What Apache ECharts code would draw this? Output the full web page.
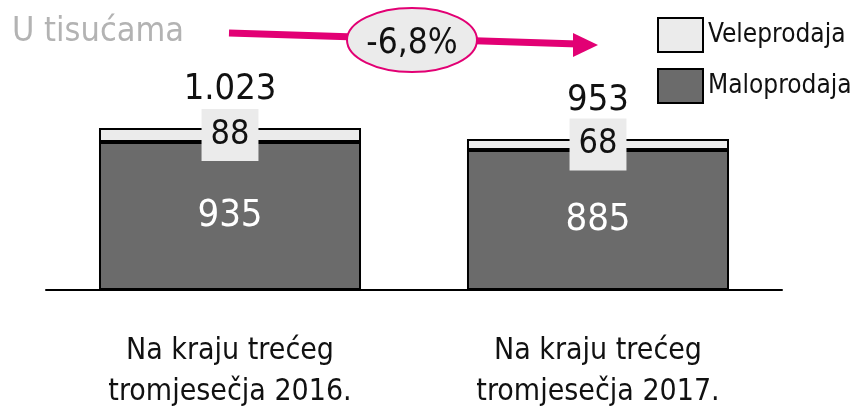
<!DOCTYPE html>
<html>
<head>
    <meta charset="utf-8">
    <title>Veleprodaja i maloprodaja</title>
    <script src="https://cdn.jsdelivr.net/npm/echarts@6/dist/echarts.min.js"></script>
    <style>
        html, body { margin: 0; padding: 0; background: #fff; }
        #chart1 { width: 856px; height: 410px; }
    </style>
</head>
<body>
<div id="chart1"></div>
<script type="text/javascript">
    // podaci (u tisućama)
    var categories = ['Na kraju trećeg\ntromjesečja 2016.', 'Na kraju trećeg\ntromjesečja 2017.'];
    var maloprodaja = [935, 885];
    var veleprodaja = [88, 68];
    var totals = [1023, 953];
    var totalLabels = ['1.023', '953'];
    var changeLabel = '-6,8%';

    var FONT = '"DejaVu Sans Condensed", "DejaVu Sans", sans-serif';
    var MAGENTA = '#e20074';

    var myChart = echarts.init(document.getElementById('chart1'));

    myChart.setOption({
        animation: false,
        textStyle: { fontFamily: FONT },
        title: {
            text: 'U tisućama',
            left: 7,
            top: 10,
            textStyle: { fontFamily: FONT, fontSize: 34, fontWeight: 'normal', color: '#b3b3b3' }
        },
        legend: {
            data: ['Veleprodaja', 'Maloprodaja'],
            orient: 'vertical',
            icon: 'rect',
            left: 652,
            top: 12,
            itemWidth: 45,
            itemHeight: 34,
            itemGap: 15,
            textStyle: { fontFamily: FONT, fontSize: 26, color: '#111' }
        },
        // fiksni raspored, bez automatskog sužavanja zbog oznaka
        grid: { left: 46, right: 74, top: 100, bottom: 120, outerBoundsMode: 'none' },
        xAxis: {
            type: 'category',
            data: categories,
            axisLine: { lineStyle: { color: '#000', width: 2 } },
            axisTick: { show: false },
            axisLabel: {
                margin: 41,
                fontFamily: FONT,
                fontSize: 30,
                lineHeight: 41,
                color: '#111'
            }
        },
        yAxis: {
            type: 'value',
            min: 0,
            max: 1200,
            show: false,
            splitLine: { show: false }
        },
        series: [
            {
                name: 'Maloprodaja',
                type: 'bar',
                stack: 'ukupno',
                barWidth: '71.2%',
                data: maloprodaja,
                itemStyle: { color: '#6b6b6b', borderColor: '#000', borderWidth: 2 },
                label: {
                    show: true,
                    position: 'inside',
                    fontFamily: FONT,
                    fontSize: 38,
                    color: '#fff'
                }
            },
            {
                name: 'Veleprodaja',
                type: 'bar',
                stack: 'ukupno',
                data: veleprodaja,
                itemStyle: { color: '#ebebeb', borderColor: '#000', borderWidth: 2 },
                label: {
                    show: true,
                    position: 'inside',
                    fontFamily: FONT,
                    fontSize: 34,
                    lineHeight: 34,
                    color: '#111',
                    backgroundColor: '#ebebeb',
                    padding: [9, 9, 9, 9]
                }
            },
            {
                name: 'Ukupno',
                type: 'scatter',
                data: totals,
                symbolSize: 0,
                silent: true,
                itemStyle: { opacity: 1 },
                label: {
                    show: true,
                    position: 'top',
                    distance: 20,
                    fontFamily: FONT,
                    fontSize: 36,
                    color: '#111',
                    formatter: function (p) { return totalLabels[p.dataIndex]; }
                }
            }
        ],
        graphic: [
            {
                type: 'line',
                shape: { x1: 229, y1: 33, x2: 578, y2: 44 },
                style: { stroke: MAGENTA, lineWidth: 7 },
                z: 10
            },
            {
                type: 'polygon',
                shape: { points: [[573, 33], [598, 45], [573, 57]] },
                style: { fill: MAGENTA },
                z: 10
            },
            {
                type: 'ellipse',
                shape: { cx: 412, cy: 40, rx: 65, ry: 32 },
                style: { fill: '#ebebeb', stroke: MAGENTA, lineWidth: 2 },
                z: 11
            },
            {
                type: 'text',
                x: 412,
                y: 44,
                style: {
                    text: changeLabel,
                    fontFamily: FONT,
                    fontSize: 35,
                    fill: '#111',
                    align: 'center',
                    verticalAlign: 'middle'
                },
                z: 12
            }
        ]
    });
</script>
</body>
</html>
